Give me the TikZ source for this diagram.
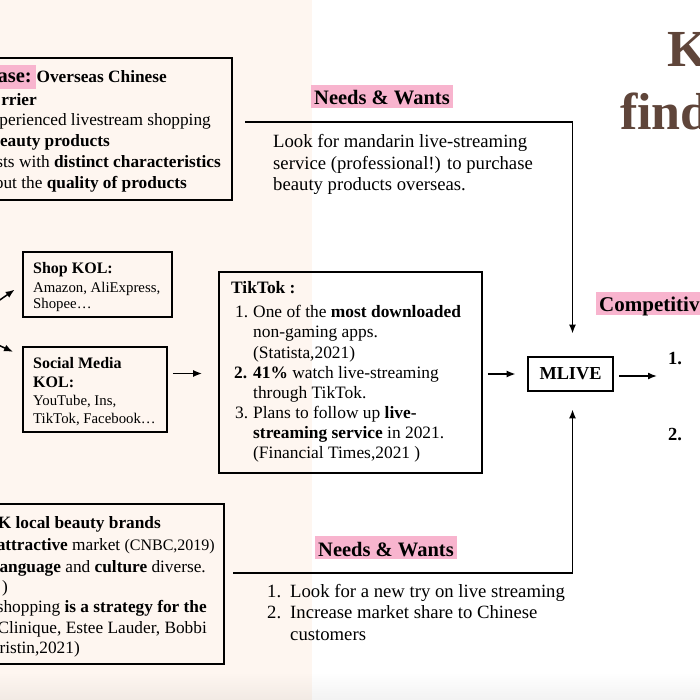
\documentclass[tikz,border=0pt]{standalone}
\usepackage{fontspec}
\setmainfont{Liberation Serif}
\usetikzlibrary{arrows.meta,calc}
\definecolor{peach}{RGB}{254,246,240}
\definecolor{hlpink}{RGB}{248,180,206}
\definecolor{titlebrown}{RGB}{95,69,58}
\newcommand{\szbody}{\fontsize{18.7}{22}\selectfont}
\newcommand{\szbx}{\fontsize{17.3}{20}\selectfont}
\newcommand{\szsmall}{\fontsize{16}{20}\selectfont}
\newcommand{\sztik}{\fontsize{17.4}{20}\selectfont}
\newcommand{\szkolh}{\fontsize{16}{18}\selectfont\bfseries}
\newcommand{\szkol}{\fontsize{14.8}{17}\selectfont}
\newcommand{\szhl}{\fontsize{20.5}{24}\selectfont\bfseries}
\newcommand{\sznum}{\fontsize{18.5}{22}\selectfont\bfseries}
\newcommand{\sztitle}{\fontsize{52}{60}\selectfont\bfseries}
\begin{document}
\begin{tikzpicture}[x=1pt,y=-1pt,
  box/.style={draw=black, line width=1.8pt, inner sep=0pt},
  mbox/.style={draw=black, line width=2.8pt, inner sep=0pt, font=\fontsize{18.3}{20}\selectfont\bfseries},
  arr/.style={-{Latex[length=9pt,width=7pt]}, line width=1.5pt},
  ln/.style={inner sep=0pt, anchor=base west},
  lnE/.style={inner sep=0pt, anchor=base east},
  hl/.style={fill=hlpink, inner xsep=3pt, inner ysep=2pt, text height=18pt, text depth=1pt, font=\szhl, anchor=base west}
]
\useasboundingbox (0,0) rectangle (700,700);
\clip (0,0) rectangle (700,700);
% background
\fill[white] (0,0) rectangle (700,700);
\fill[peach] (0,0) rectangle (312,700);
\shade[top color=peach, bottom color=peach!95!black] (0,672) rectangle (312,700);
\shade[top color=white, bottom color=white!95!black] (312,672) rectangle (700,700);

% boxes
\node[box, minimum width=250pt, minimum height=142pt] (casebox) at (107,129) {};
\node[box, minimum width=149pt, minimum height=65pt] (shopbox) at (97.5,284.5) {};
\node[box, minimum width=144pt, minimum height=85pt] (socialbox) at (95,389.5) {};
\node[box, minimum width=263pt, minimum height=201pt] (tiktokbox) at (350.5,372.5) {};
\node[box, minimum width=242pt, minimum height=160pt] (ukbox) at (103,584) {};
\node[mbox, minimum width=85pt, minimum height=34pt] (mlive) at (570.5,374) {MLIVE};

% connectors
\coordinate (needsA) at (245,122);
\draw[arr, shorten >=22pt] (needsA) -| ([xshift=2pt]mlive.north);
\coordinate (needsBst) at (233,573);
\draw[arr, shorten >=17pt] (needsBst) -| ([xshift=2pt]mlive.south);
\draw[arr, shorten <=5pt, shorten >=11pt] (tiktokbox.east |- mlive.west) -- (mlive.west);
\coordinate (s1) at ([yshift=16pt]socialbox.east);
\draw[arr, shorten <=5pt, shorten >=16pt] (s1) -- (s1 -| tiktokbox.west);
\coordinate (compout) at (657,376);
\draw[arr, shorten <=5pt] (mlive.east |- compout) -- (compout);
\coordinate (kolsrcA) at (-6,304);
\draw[arr, shorten >=9pt] (kolsrcA) -- (shopbox.west);
\coordinate (kolsrcB) at (-6,343);
\draw[arr, shorten >=10pt] (kolsrcB) -- ([yshift=-10pt]socialbox.north west);

% top-left box text
\node[hl, anchor=base east, text height=16pt, text depth=4pt, inner xsep=4pt] (caseHL) at (36,83) {ase:};
\node[lnE, font=\szbx\bfseries] (c1) at (167,83) {Overseas Chinese};
\node[lnE, font=\szbx\bfseries] (c2) at (37,106) {rrier};
\node[lnE, font=\szbx] (c3) at (211,126) {perienced livestream shopping};
\node[lnE, font=\szbx\bfseries] (c4) at (110,147) {eauty products};
\node[lnE, font=\szbx] (c5) at (221,168) {sts with \textbf{distinct characteristics}};
\node[lnE, font=\szbx] (c6) at (187,189) {out the \textbf{quality of products}};

% needs & wants (top)
\node[hl] (needsT) at (311,105) {Needs \& Wants};
\node[ln, font=\szbody] (n1) at (273,148) {Look for mandarin live-streaming};
\node[ln, font=\szbody] (n2) at (273,170) {service (professional!) to purchase};
\node[ln, font=\szbody] (n3) at (273,191) {beauty products overseas.};

% KOL boxes
\node[ln, font=\szkolh] (k1) at (33,273) {Shop KOL:};
\node[ln, font=\szkol] (k2) at (33,292) {Amazon, AliExpress,};
\node[ln, font=\szkol] (k3) at (33,308) {Shopee…};
\node[ln, font=\szkolh] (k4) at (33,368) {Social Media};
\node[ln, font=\szkolh] (k5) at (33,387) {KOL:};
\node[ln, font=\szkol] (k6) at (33,405) {YouTube, Ins,};
\node[ln, font=\szkol] (k7) at (33,423) {TikTok, Facebook…};

% TikTok box
\node[ln, font=\sztik\bfseries] (tk0) at (231,293) {TikTok :};
\node[ln, font=\sztik] (tk1n) at (235,317) {1.};
\node[ln, font=\sztik] (tk1) at (253,317) {One of the \textbf{most downloaded}};
\node[ln, font=\sztik] (tk2) at (253,337) {non-gaming apps.};
\node[ln, font=\sztik] (tk3) at (253,358) {(Statista,2021)};
\node[ln, font=\sztik\bfseries] (tk4n) at (234,378) {2.};
\node[ln, font=\sztik] (tk4) at (253,378) {\textbf{41\%} watch live-streaming};
\node[ln, font=\sztik] (tk5) at (253,398) {through TikTok.};
\node[ln, font=\sztik] (tk6n) at (235,418) {3.};
\node[ln, font=\sztik] (tk6) at (253,418) {Plans to follow up \textbf{live-}};
\node[ln, font=\sztik] (tk7) at (253,438) {\textbf{streaming service} in 2021.};
\node[ln, font=\sztik] (tk8) at (253,458) {(Financial Times,2021 )};

% right side
\node[ln, font=\sztitle, text=titlebrown] (ttlK) at (667,67) {K};
\node[ln, font=\sztitle, text=titlebrown] (ttlF) at (620,130) {find};
\node[hl, font=\fontsize{21}{24}\selectfont\bfseries, text height=17pt, text depth=2pt] (compHL) at (596,311) {Competitiv};
\node[ln, font=\sznum] (r1) at (668,364) {1.};
\node[ln, font=\sznum] (r2) at (668,440) {2.};

% needs & wants (bottom)
\node[hl] (needsB) at (315,556) {Needs \& Wants};
\node[ln, font=\szbody] (b1n) at (267,597) {1.};
\node[ln, font=\szbody] (b1) at (290,597) {Look for a new try on live streaming};
\node[ln, font=\szbody] (b2n) at (267,618) {2.};
\node[ln, font=\szbody] (b2) at (290,618) {Increase market share to Chinese};
\node[ln, font=\szbody] (b3) at (290,640) {customers};

% UK box text
\node[lnE, font=\szbx\bfseries] (u1) at (161,528) {K local beauty brands};
\node[lnE, font=\szbx] (u2) at (215,550) {\textbf{attractive} market {\szsmall(CNBC,2019)}};
\node[lnE, font=\szbx] (u3) at (206,572) {\textbf{anguage} and \textbf{culture} diverse.};
\node[lnE, font=\szbx] (u4) at (8,592) {)};
\node[lnE, font=\szbx] (u5) at (207,612) {shopping \textbf{is a strategy for the}};
\node[lnE, font=\szbx] (u6) at (207,633) {Clinique, Estee Lauder, Bobbi};
\node[lnE, font=\szbx] (u7) at (80,653) {ristin,2021)};
\end{tikzpicture}
\end{document}
